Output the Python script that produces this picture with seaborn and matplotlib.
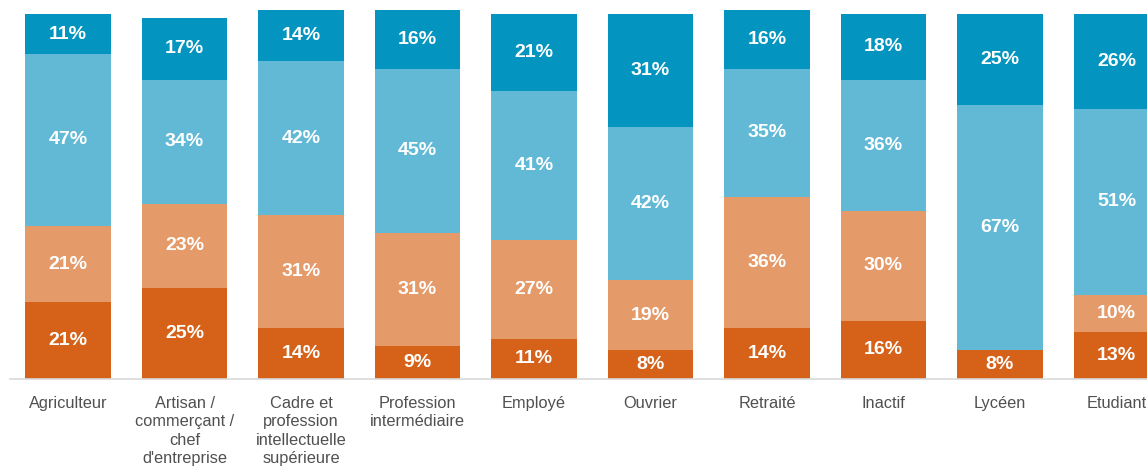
import numpy as np
import pandas as pd
import matplotlib
matplotlib.use("Agg")
import matplotlib.pyplot as plt
import seaborn as sns

categories = [
    "Agriculteur",
    "Artisan /\ncommerçant /\nchef\nd'entreprise",
    "Cadre et\nprofession\nintellectuelle\nsupérieure",
    "Profession\nintermédiaire",
    "Employé",
    "Ouvrier",
    "Retraité",
    "Inactif",
    "Lycéen",
    "Etudiant",
]

# Stacked shares, bottom to top
seg1 = [21, 25, 14, 9, 11, 8, 14, 16, 8, 13]     # dark orange
seg2 = [21, 23, 31, 31, 27, 19, 36, 30, 0, 10]   # light orange
seg3 = [47, 34, 42, 45, 41, 42, 35, 36, 67, 51]  # light blue
seg4 = [11, 17, 14, 16, 21, 31, 16, 18, 25, 26]  # dark blue

colors = ["#D6621A", "#E49A69", "#62B9D6", "#0395BF"]

sns.set_theme(style="white")
plt.rcParams["font.family"] = ["Liberation Sans", "DejaVu Sans"]

segments = [np.array(s, dtype=float) for s in (seg1, seg2, seg3, seg4)]
cums = np.cumsum(np.vstack(segments), axis=0)

fig = plt.figure(figsize=(11.47, 4.68), dpi=100)
ax = fig.add_axes([10 / 1147, 89 / 468, 1137 / 1147, 365 / 468])

# Draw cumulative totals from the top layer down so each layer covers the rest
for level in range(3, -1, -1):
    df = pd.DataFrame({"cat": categories, "val": cums[level]})
    sns.barplot(data=df, x="cat", y="val", order=categories, color=colors[level],
                saturation=1, width=0.734, ax=ax, clip_on=False, linewidth=0)

# Percentage labels in the middle of each segment
for level in range(4):
    bottoms = cums[level] - segments[level]
    for i, v in enumerate(segments[level]):
        if v <= 0:
            continue
        ax.text(i, bottoms[i] + v / 2, f"{int(v)}%", ha="center", va="center",
                color="white", fontsize=14, fontweight="bold")

ax.set_xlim(-0.498, 9.262)
ax.set_ylim(0, 100)
ax.set_xlabel("")
ax.set_ylabel("")
ax.set_yticks([])
ax.tick_params(axis="x", length=0, pad=12, labelsize=11.8, labelcolor="#505050")
for lab in ax.get_xticklabels():
    lab.set_linespacing(1.3)

for side in ("top", "right", "left"):
    ax.spines[side].set_visible(False)
ax.spines["bottom"].set_color("#D9D9D9")
ax.spines["bottom"].set_linewidth(1.2)

fig.savefig("out.png", dpi=100)
